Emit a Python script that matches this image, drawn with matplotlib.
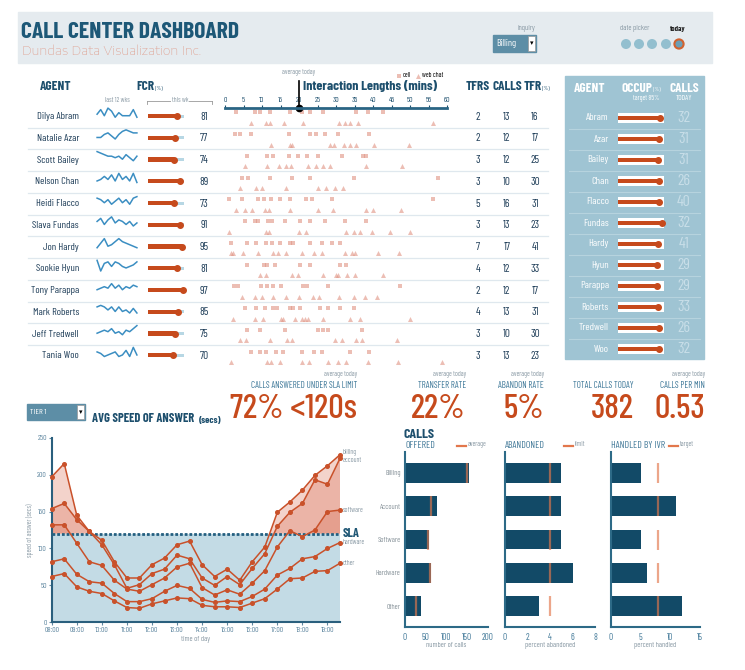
import numpy as np
import matplotlib
matplotlib.use('Agg')
import matplotlib.pyplot as plt
from matplotlib.patches import Rectangle, Circle

W, H = 745, 670

plt.rcParams['font.family'] = ['Barlow Condensed', 'Roboto Condensed', 'DejaVu Sans']

TEAL = '#1d4f6d'
ORANGE = '#c64a1c'
GREY = '#8a9aa5'
PINK = '#e09383'

# ---- data -------------------------------------------------------------
agents = ['Dilya Abram', 'Natalie Azar', 'Scott Bailey', 'Nelson Chan', 'Heidi Flacco',
          'Slava Fundas', 'Jon Hardy', 'Sookie Hyun', 'Tony Parappa', 'Mark Roberts',
          'Jeff Tredwell', 'Tania Woo']
fcr = [81, 77, 74, 89, 73, 91, 95, 81, 97, 85, 75, 70]
tfrs = [2, 2, 3, 3, 5, 3, 7, 4, 2, 4, 3, 3]
calls = [13, 12, 12, 10, 16, 13, 17, 12, 12, 13, 10, 13]
tfr = [16, 17, 25, 30, 31, 23, 41, 33, 17, 31, 30, 23]

fcr_12wks = [
    [3, 6, 2, 7, 5, 1, 4, 2, 2, 2, 6, 1],
    [2, 2, 4, 5, 3, 1, 4, 6, 7, 6, 5, 5],
    [7, 6, 5, 4, 4, 3, 4, 2, 5, 3, 1, 4],
    [2, 3, 5, 3, 6, 2, 7, 3, 5, 2, 7, 1],
    [5, 4, 2, 4, 1, 3, 5, 2, 4, 1, 5, 6],
    [4, 6, 2, 5, 7, 3, 5, 4, 2, 4, 1, 3],
    [1, 4, 7, 2, 3, 5, 7, 5, 4, 3, 2, 1],
    [7, 0, 5, 6, 3, 6, 5, 3, 2, 3, 4, 6],
    [2, 3, 4, 3, 6, 3, 5, 2, 4, 3, 5, 4],
    [5, 6, 5, 3, 5, 2, 5, 2, 3, 1, 4, 1],
    [2, 3, 4, 3, 5, 2, 3, 1, 4, 3, 5, 7],
    [4, 3, 1, 2, 3, 4, 1, 2, 5, 1, 7, 2],
]

call_lengths = [
    [3.1, 8.1, 9.4, 12.1, 17.5, 20.7, 22.9, 26.5, 35.3, 38.7, 42.7],
    [2.7, 4.0, 6.9, 17.3, 22.9, 24.7, 27.0, 30.6, 38.9],
    [6.0, 11.4, 13.0, 17.3, 19.8, 22.2, 25.2, 31.5, 37.3, 38.2],
    [4.5, 6.3, 12.1, 18.0, 22.9, 34.8, 57.6],
    [1.2, 4.5, 9.0, 10.5, 12.3, 14.8, 17.5, 22.0, 23.4, 29.0, 56.2],
    [5.4, 8.1, 9.0, 11.7, 12.6, 16.2, 20.4, 23.1, 27.0, 32.4, 38.2],
    [1.5, 6.0, 8.5, 11.2, 12.6, 14.8, 17.5, 18.4, 22.9, 26.1, 28.8, 31.2],
    [6.0, 10.5, 11.4, 13.5, 20.2, 22.9, 31.2, 32.8],
    [2.4, 3.6, 9.6, 11.4, 13.0, 15.0, 21.0, 22.2, 27.9, 47.2],
    [5.4, 8.4, 10.8, 12.9, 14.0, 17.5, 18.4, 20.2, 25.6, 27.9, 31.0, 34.8],
    [6.0, 9.4, 16.2, 25.2, 26.5, 27.9, 37.1],
    [6.9, 9.4, 11.2, 13.8, 15.7, 20.7, 24.0, 26.1, 33.7, 38.9],
]
chat_lengths = [
    [6.9, 11.2, 12.1, 15.9, 21.0, 30.8, 32.4, 33.7, 36.0, 56.2],
    [12.3, 17.5, 18.0, 28.3, 29.4, 32.1, 33.7, 35.5, 40.2, 49.6],
    [5.4, 11.4, 14.7, 16.5, 17.8, 22.5, 24.7, 26.5, 28.5, 38.2, 47.9],
    [4.0, 8.5, 9.9, 16.6, 25.2, 27.2, 29.7, 31.9],
    [3.1, 5.4, 7.2, 10.8, 12.0, 17.5, 25.2, 29.2, 38.2, 40.0, 47.7],
    [1.2, 11.2, 12.0, 20.1, 22.0, 32.8, 34.8, 36.6, 39.6, 44.5, 49.9],
    [1.5, 2.2, 4.9, 9.0, 13.0, 14.4, 16.5, 20.7, 24.0, 26.1, 32.4, 34.2, 35.1, 41.4, 47.0],
    [9.4, 11.2, 18.0, 19.8, 26.5, 30.1, 30.6, 33.0, 35.1, 42.7],
    [4.5, 8.1, 9.9, 12.9, 16.5, 20.1, 23.8, 25.4, 30.8, 34.8, 37.8, 41.2],
    [2.2, 8.1, 10.2, 15.0, 15.7, 18.9, 20.7, 21.6, 22.5, 26.5, 33.7, 36.4, 49.9],
    [4.0, 5.7, 12.1, 16.8, 18.0, 29.7, 31.7, 35.3, 37.1, 46.5],
    [1.5, 11.4, 12.3, 14.8, 20.7, 22.8, 27.9, 30.6, 32.8, 38.7, 46.8, 58.7],
]
avg_length = 20

occ_agents = ['Abram', 'Azar', 'Bailey', 'Chan', 'Flacco', 'Fundas', 'Hardy', 'Hyun',
              'Parappa', 'Roberts', 'Tredwell', 'Woo']
occupancy = [91, 90, 88, 90, 90, 95, 88, 84, 84, 86, 89, 90]
calls_today = [32, 31, 31, 26, 40, 32, 41, 29, 29, 33, 26, 32]

kpi_labels = ['CALLS ANSWERED UNDER SLA LIMIT', 'TRANSFER RATE', 'ABANDON RATE',
              'TOTAL CALLS TODAY', 'CALLS PER MIN']
kpi_values = ['72% <120s', '22%', '5%', '382', '0.53']
kpi_avg = [True, True, True, False, True]

hours = [8 + 0.5 * k for k in range(24)]
hour_ticks = list(range(8, 20))
asa = {
    'billing': [197, 215, 145, 123, 111, 82, 60, 60, 78, 87, 105, 110,
                78, 62, 72, 57, 82, 102, 149, 163, 179, 199, 212, 227],
    'account': [154, 161, 139, 123, 105, 78, 46, 51, 66, 72, 91, 86,
                60, 50, 62, 51, 73, 93, 130, 149, 161, 193, 187, 222],
    'software': [132, 132, 107, 82, 77, 57, 45, 42, 51, 60, 75, 80,
                 47, 37, 44, 38, 53, 70, 102, 124, 116, 125, 150, 152],
    'hardware': [82, 86, 65, 55, 53, 39, 28, 28, 32, 42, 50, 46,
                 31, 27, 29, 28, 35, 45, 64, 73, 86, 89, 100, 108],
    'other': [62, 66, 48, 42, 39, 29, 20, 19, 25, 29, 33, 32,
              23, 21, 21, 20, 26, 32, 45, 59, 60, 69, 70, 80],
}
sla = 120

categories = ['Billing', 'Account', 'Software', 'Hardware', 'Other']
offered = [154, 76, 58, 62, 38]
offered_avg = [150, 62, 56, 60, 26]
abandoned = [5, 5, 5, 6, 3]
abandon_limit = [4, 4, 4, 4, 4]
ivr = [5, 11, 5, 6, 12]
ivr_target = [8, 8, 8, 8, 8]

# ---- figure -----------------------------------------------------------
fig = plt.figure(figsize=(W / 100, H / 100), dpi=100)
bg = fig.add_axes([0, 0, 1, 1])
bg.set_xlim(0, W)
bg.set_ylim(H, 0)
bg.axis('off')


def px_axes(x0, y0, x1, y1):
    return fig.add_axes([x0 / W, 1 - y1 / H, (x1 - x0) / W, (y1 - y0) / H])


# header
bg.add_patch(Rectangle((18, 12), 694, 51, color='#e5ebef', zorder=0))
bg.text(21, 32, 'CALL CENTER DASHBOARD', fontsize=17, fontweight='bold', color='#1d5877', va='center')
bg.text(22, 51, 'Dundas Data Visualization Inc.', fontsize=9, color='#df9c8b', va='center',
        family=['Encode Sans Expanded', 'DejaVu Sans'], fontweight='light')
bg.text(535, 29, 'inquiry', fontsize=5.5, color=GREY, ha='right', va='center')
bg.add_patch(Rectangle((493, 35), 43, 17, color='#5d8ea6'))
bg.add_patch(Rectangle((528, 36), 7, 15, facecolor='white', edgecolor='#999999', lw=0.5))
bg.text(496, 43.5, 'Billing', fontsize=7, color='white', va='center')
bg.text(531.5, 43.5, '▾', fontsize=5, color='black', va='center', ha='center', family='DejaVu Sans')
bg.text(635, 29, 'date picker', fontsize=5.5, color=GREY, ha='center', va='center')
bg.text(678, 29, 'today', fontsize=5.5, color='#222222', ha='center', va='center', fontweight='bold')
for cx in [626, 639, 652, 666]:
    bg.add_patch(Circle((cx, 44), 4.3, color='#93bfcf'))
bg.add_patch(Circle((679, 44), 4.6, facecolor='#6c9fb6', edgecolor='#d2622f', lw=1.5))

# agent table
ROW0, ROWH = 116.7, 21.75
rows = np.arange(len(agents))
rows_top, rows_bot = ROW0 - 0.5 * ROWH, ROW0 + 11.5 * ROWH

bg.text(40, 87, 'AGENT', fontsize=9.5, fontweight='bold', color=TEAL, va='center')
bg.text(136, 87, 'FCR', fontsize=9.5, fontweight='bold', color=TEAL, va='center')
bg.text(155, 88.5, '(%)', fontsize=4.5, color=TEAL, va='center')
bg.text(117, 101, 'last 12 wks', fontsize=5, color=GREY, ha='center', va='center')
bg.plot([147, 212], [101, 101], color='#999999', lw=0.6)
bg.plot([147, 147], [101, 104], color='#999999', lw=0.6)
bg.plot([212, 212], [101, 104], color='#999999', lw=0.6)
bg.text(180, 101, 'this wk', fontsize=5, color=GREY, ha='center', va='center',
        bbox=dict(facecolor='white', edgecolor='none', pad=0.5))
bg.text(303, 86, 'Interaction Lengths (mins)', fontsize=10, fontweight='bold', color=TEAL, va='center')
bg.text(299, 73, 'average today', fontsize=5, color=GREY, ha='center', va='center')
bg.text(478, 87, 'TFRS', fontsize=9.5, fontweight='bold', color=TEAL, va='center', ha='center')
bg.text(507, 87, 'CALLS', fontsize=9.5, fontweight='bold', color=TEAL, va='center', ha='center')
bg.text(533, 87, 'TFR', fontsize=9.5, fontweight='bold', color=TEAL, va='center', ha='center')
bg.text(542, 88.5, '(%)', fontsize=4.5, color=TEAL, va='center')

for i in rows:
    y = ROW0 + i * ROWH
    bg.text(79, y, agents[i], fontsize=7.5, color='#1e3d58', ha='right', va='center')
    bg.text(204, y, str(fcr[i]), fontsize=8, color='#1e3d58', ha='center', va='center')
    bg.text(478, y, str(tfrs[i]), fontsize=8, color='#1e3d58', ha='center', va='center')
    bg.text(507, y, str(calls[i]), fontsize=8, color='#1e3d58', ha='center', va='center')
    bg.text(535, y, str(tfr[i]), fontsize=8, color='#1e3d58', ha='center', va='center')
    if i < len(agents) - 1:
        bg.plot([28, 548], [y + ROWH / 2, y + ROWH / 2], color='#dfe8ee', lw=0.9, zorder=0)

# sparklines
ax_sp = px_axes(96, rows_top, 138, rows_bot)
ax_sp.set_xlim(-0.3, 11.3)
ax_sp.set_ylim(11.5, -0.5)
ax_sp.axis('off')
for i, series in enumerate(fcr_12wks):
    vals = np.array(series, dtype=float)
    ax_sp.plot(np.arange(12), i - 0.15 - (vals - 3.5) * 0.07, color='#3b8ec2', lw=1.1)

# FCR this week bullets
ax_b = px_axes(148, rows_top, 184, rows_bot)
ax_b.set_xlim(0, 101)
ax_b.set_ylim(11.5, -0.5)
ax_b.axis('off')
ax_b.barh(rows - 0.03, [100] * len(rows), height=0.14, color='#b7d7e4')
ax_b.barh(rows - 0.03, fcr, height=0.2, color=ORANGE)
ax_b.scatter(fcr, rows - 0.03, s=16, color=ORANGE, zorder=3, clip_on=False)

# interaction lengths
ax_int = px_axes(225, ROW0 - 0.4 * ROWH, 447, rows_bot)
ax_int.set_xlim(0, 60)
ax_int.set_ylim(11.5, -0.4)
for s in ['left', 'right', 'bottom']:
    ax_int.spines[s].set_visible(False)
ax_int.spines['top'].set_color('#2a6584')
ax_int.spines['top'].set_linewidth(2)
ax_int.set_yticks([])
ax_int.set_xticks(range(0, 61, 5))
ax_int.xaxis.tick_top()
ax_int.tick_params(axis='x', labelsize=5.5, colors=TEAL, length=2, pad=1)
ax_int.patch.set_alpha(0)
for i in rows:
    ax_int.scatter(call_lengths[i], [i - 0.2] * len(call_lengths[i]), marker='s', s=11,
                   color=PINK, alpha=0.6, lw=0, label='cell' if i == 0 else None)
    ax_int.scatter(chat_lengths[i], [i + 0.28] * len(chat_lengths[i]), marker='^', s=13,
                   color=PINK, alpha=0.6, lw=0, label='web chat' if i == 0 else None)
ax_int.plot([avg_length, avg_length], [-0.4, -1.65], color='black', lw=1.2, clip_on=False)
ax_int.plot([avg_length], [-0.4], 'o', ms=4.5, color='black', clip_on=False)
ax_int.legend(loc='center right', bbox_to_anchor=(1.0, 1.124), ncol=2, fontsize=5,
              frameon=False, handletextpad=0.1, columnspacing=0.5, borderpad=0,
              handlelength=1.0, markerscale=1)

# occupancy panel
OROW0, OROWH = 118, 21
bg.add_patch(Rectangle((565, 76), 139, 283, color='#9fc4d3', zorder=0))
bg.text(590, 88, 'AGENT', fontsize=9.5, fontweight='bold', color='white', ha='center', va='center')
bg.text(637, 88, 'OCCUP', fontsize=9.5, fontweight='bold', color='white', ha='center', va='center')
bg.text(653, 89, '(%)', fontsize=4.5, color='white', va='center')
bg.text(646, 99, 'target 85%', fontsize=5, color='white', ha='center', va='center')
bg.text(684, 88, 'CALLS', fontsize=9.5, fontweight='bold', color='white', ha='center', va='center')
bg.text(684, 99, 'TODAY', fontsize=5.5, color='white', ha='center', va='center')
for i, nm in enumerate(occ_agents):
    y = OROW0 + i * OROWH
    bg.text(609, y, nm, fontsize=7.5, color='white', ha='right', va='center')
    bg.text(684, y, str(calls_today[i]), fontsize=11.5, color='#c8dee8', ha='center', va='center')
    if i < len(occ_agents) - 1:
        bg.plot([569, 700], [y + OROWH / 2, y + OROWH / 2], color='#b6d3de', lw=0.8, zorder=0)

ax_o = px_axes(618, OROW0 - 0.5 * OROWH, 664, OROW0 + 11.5 * OROWH)
ax_o.set_xlim(0, 100)
ax_o.set_ylim(11.5, -0.5)
ax_o.axis('off')
ax_o.barh(rows, [100] * len(rows), height=0.45, color='white')
ax_o.barh(rows, occupancy, height=0.2, color=ORANGE)
ax_o.scatter(occupancy, rows, s=16, color=ORANGE, zorder=3, clip_on=False)

# KPI row
kpi_right = [357, 466, 544, 634, 705]
for lab, val, has_avg, xr in zip(kpi_labels, kpi_values, kpi_avg, kpi_right):
    if has_avg:
        bg.text(xr, 375, 'average today', fontsize=5, color=GREY, ha='right', va='center')
    bg.text(xr, 386, lab, fontsize=6.5, color='#3b7697', ha='right', va='center')
    bg.text(xr, 409, val, fontsize=24.5, fontweight='medium', color=ORANGE, ha='right', va='center')

# tier dropdown + title
bg.add_patch(Rectangle((27, 404), 58, 16, color='#5d8ea6'))
bg.add_patch(Rectangle((77, 405), 7, 14, facecolor='white', edgecolor='#999999', lw=0.5))
bg.text(30, 412, 'TIER 1', fontsize=6, color='white', va='center')
bg.text(80.5, 412, '▾', fontsize=5, color='black', va='center', ha='center', family='DejaVu Sans')
bg.text(92, 419, 'AVG SPEED OF ANSWER', fontsize=9, fontweight='bold', color=TEAL, va='center')
bg.text(199, 420, '(secs)', fontsize=7, fontweight='bold', color=TEAL, va='center')

# speed of answer line chart
ax_l = px_axes(51.7, 437.7, 340, 622.3)
ax_l.set_xlim(8, 19.5)
ax_l.set_ylim(0, 250)
ax_l.axhspan(0, sla, color='#c3dbe5', lw=0, zorder=0)
x = np.array(hours)
label_nudge = {'billing': 3, 'account': -3}
for name, vals in asa.items():
    y = np.array(vals, dtype=float)
    ax_l.fill_between(x, sla, y, where=y >= sla, interpolate=True, color='#d96f55', alpha=0.3, lw=0)
for name, vals in asa.items():
    ax_l.plot(x, vals, color='#c9512a', lw=1.1, marker='o', ms=2.6, zorder=4, clip_on=False)
    ax_l.text(19.62, vals[-1] + label_nudge.get(name, 0), name, fontsize=5, color=GREY,
              va='center', clip_on=False)
ax_l.axhline(sla, color='#245f80', lw=2, ls=(0, (1, 0.7)), zorder=3)
ax_l.text(19.62, sla, 'SLA', fontsize=9, fontweight='bold', color='#1f5775', va='center')
ax_l.set_xticks(hour_ticks)
ax_l.set_xticklabels(['%02d:00' % h for h in hour_ticks])
ax_l.set_yticks(range(0, 251, 50))
ax_l.tick_params(labelsize=5.5, colors='#5f87a0', length=2, pad=1.5)
ax_l.set_xlabel('time of day', fontsize=5.5, color=GREY, labelpad=1)
ax_l.set_ylabel('speed of answer (secs)', fontsize=5, color=GREY, labelpad=2)
for s in ['top', 'right']:
    ax_l.spines[s].set_visible(False)
for s in ['left', 'bottom']:
    ax_l.spines[s].set_color('#2a5f7d')
    ax_l.spines[s].set_linewidth(1.5)

# calls bar charts
bg.text(404, 434, 'CALLS', fontsize=10, fontweight='bold', color=TEAL, va='center')
panels = [
    (405, 488, 200, [0, 50, 100, 150, 200], offered, offered_avg, 'OFFERED', 'average', 'number of calls'),
    (505, 595, 8, [0, 2, 4, 6, 8], abandoned, abandon_limit, 'ABANDONED', 'limit', 'percent abandoned'),
    (611, 700, 15, [0, 5, 10, 15], ivr, ivr_target, 'HANDLED BY IVR', 'target', 'percent handled'),
]
cat_pos = np.arange(len(categories))
for k, (x0, x1, xmax, ticks, vals, ref, title, ref_lab, xlab) in enumerate(panels):
    ax = px_axes(x0, 452, x1, 627)
    ax.set_xlim(0, xmax)
    ax.set_ylim(4.63, -0.63)
    ax.barh(cat_pos, vals, height=0.6, color='#124a67')
    ax.plot(ref, cat_pos, ls='none', marker='|', ms=14, mew=1.6, color='#e2774c', alpha=0.65)
    ax.set_xticks(ticks)
    ax.set_yticks(cat_pos)
    ax.set_yticklabels(categories if k == 0 else [])
    ax.tick_params(axis='y', length=0, labelsize=5.5, colors='#8a959c', pad=3)
    ax.tick_params(axis='x', length=0, labelsize=6.5, colors='#3f7797', pad=4)
    ax.set_xlabel(xlab, fontsize=5.5, color=GREY, labelpad=0)
    for s in ['top', 'right']:
        ax.spines[s].set_visible(False)
    for s in ['left', 'bottom']:
        ax.spines[s].set_color('#2d6a87')
        ax.spines[s].set_linewidth(1.5)
    ax.patch.set_alpha(0)
    bg.text(x0, 446, title, fontsize=7, color='#3f7797', va='center')
    bg.plot([x1 - 31, x1 - 22], [446, 446], color='#e2774c', lw=1.6)
    bg.text(x1 - 20, 445, ref_lab, fontsize=5, color=GREY, va='center')

fig.savefig('out.png', dpi=100)
